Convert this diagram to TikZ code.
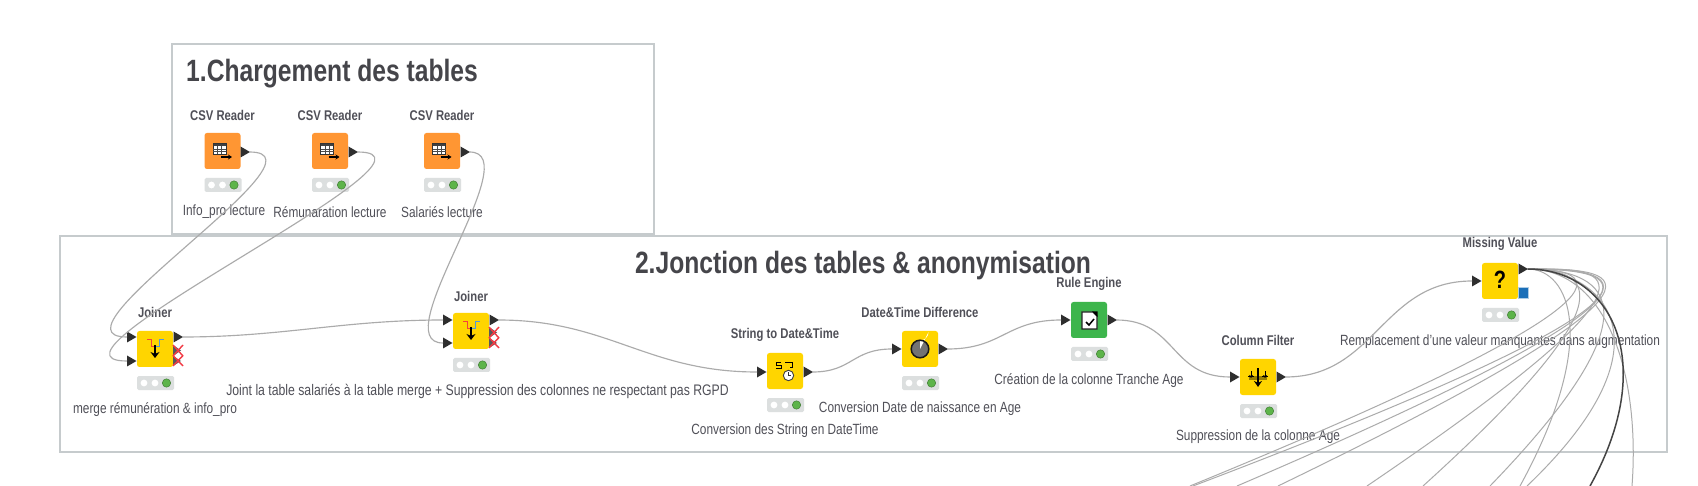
\documentclass[tikz,border=0pt]{standalone}
\usepackage{fontspec}
\setmainfont{Liberation Sans}[FakeStretch=0.80]
\usetikzlibrary{arrows.meta}
\definecolor{boxline}{HTML}{C6CBCD}
\definecolor{wire}{HTML}{ABABAB}
\definecolor{wiredark}{HTML}{444444}
\definecolor{inktext}{HTML}{505058}
\definecolor{headtext}{HTML}{45454A}
\definecolor{kyellow}{HTML}{FFD500}
\definecolor{korange}{HTML}{FF9633}
\definecolor{kgreen}{HTML}{3DB54C}
\definecolor{barfill}{HTML}{DCDFDF}
\definecolor{lamp}{HTML}{5DB44A}
\definecolor{kblue}{HTML}{1B6FB8}
\definecolor{kred}{HTML}{F23A44}
\definecolor{portdark}{HTML}{2E2E2E}
\tikzset{
  groupbox/.style={draw=boxline,line width=1.8pt,fill=none},
  bighead/.style={font=\bfseries\fontsize{30.8}{33}\selectfont,text=headtext,inner sep=0pt},
  nodehead/.style={font=\bfseries\fontsize{14.1}{16}\selectfont,text=inktext,inner sep=0pt},
  nodelabel/.style={font=\fontsize{14.8}{16}\selectfont,text=inktext,inner sep=0pt},
  knbody/.style={rectangle,rounded corners=2.5pt,minimum width=36pt,minimum height=36pt,inner sep=0pt},
  wireline/.style={draw=wire,line width=1.15pt},
  fanline/.style={draw=wire,line width=1pt},
  fandark/.style={draw=wiredark,line width=1.5pt},
  iconline/.style={draw=black,line width=1pt},
}
% name, cx, cy, fill, title, label, title y, label y
\newcommand\kn[8]{%
  \node[knbody,fill=#4] (#1) at (#2,#3) {};
  \node[nodehead] (#1h) at (#2,#7) {#5};
  \node[nodelabel] (#1l) at (#2,#8) {#6};
  \begin{scope}[shift={(#2,#3)}]
    \fill[barfill,rounded corners=1.5pt] (-18,27) rectangle (19,41);
    \fill[white] (-11,34) circle (3.4);
    \fill[white] (0,34) circle (3.4);
    \fill[lamp,draw=lamp!70!black,line width=.5pt] (11.5,34) circle (4.2);
  \end{scope}}
\newcommand\portin[3]{\coordinate (#1) at (#2,#3);
  \fill[portdark] (#2,#3) ++(0,-5.5) -- ++(9.5,5.5) -- ++(-9.5,5.5) -- cycle;}
\newcommand\portout[3]{\coordinate (#1) at (#2,#3);
  \fill[portdark] (#2,#3) ++(-9,-5.5) -- ++(9.5,5.5) -- ++(-9.5,5.5) -- cycle;}
\newcommand\csvicon[2]{\begin{scope}[shift={(#1,#2)}]
  \fill[white] (-9.5,-8) rectangle (3.5,3);
  \fill[black!75] (-9.5,-8) rectangle (3.5,-5);
  \draw[black!80,line width=.7pt] (-9.5,-8) rectangle (3.5,3);
  \draw[black!70,line width=.45pt] (-9.5,-2) -- (3.5,-2) (-9.5,.5) -- (3.5,.5) (-5,-5) -- (-5,3) (-.8,-5) -- (-.8,3);
  \draw[black,line width=1.3pt,-{Stealth[length=4pt,width=5pt]}] (-1.5,6) -- (9.5,6);
\end{scope}}
\newcommand\joinicon[2]{\begin{scope}[shift={(#1,#2)}]
  \draw[kred!85!orange,line width=1pt] (-8,-9) -- (-4,-9) -- (-4,-2) -- (-1,-2);
  \draw[cyan!60!blue!70,line width=1pt] (9,-9) -- (4,-9) -- (4,-2) -- (1,-2);
  \draw[black,line width=1.8pt,-{Stealth[length=6pt,width=9pt]}] (0,-4) -- (0,9);
\end{scope}}
\newcommand\crosses[2]{\begin{scope}[shift={(#1,#2)}]
  \fill[black!65] (18,-4) -- (26,1.5) -- (18,7) -- cycle;
  \fill[black!65] (18,7) -- (26,12) -- (18,17) -- cycle;
  \draw[kred,line width=1.4pt] (18,-4) -- (28,7) (28,-4) -- (18,7) (18,6.5) -- (28,17) (28,6.5) -- (18,17);
\end{scope}}
\begin{document}
\begin{tikzpicture}[x=1pt,y=-1pt]
\useasboundingbox (0,0) rectangle (1698,486);
\fill[white] (0,0) rectangle (1698,486);
% groups
\draw[groupbox] (172,44) rectangle (654,234);
\draw[groupbox] (60,236) rectangle (1667,452);
\node[bighead,anchor=west] (t1) at (186,74) {1.Chargement des tables};
\node[bighead] (t2) at (863,266) {2.Jonction des tables \& anonymisation};
% nodes
\kn{csva}{222.5}{151}{korange}{CSV Reader}{\hspace*{3pt}Info\_pro lecture}{115}{212}
\kn{csvb}{330}{151}{korange}{CSV Reader}{Rémunaration lecture}{115}{212}
\kn{csvc}{442}{151}{korange}{CSV Reader}{Salariés lecture}{115}{212}
\kn{joina}{155}{349}{kyellow}{Joiner}{merge rémunération \& info\_pro}{312}{410}
\kn{joinb}{471}{331}{kyellow}{Joiner}{\hspace*{13pt}\fontsize{15.3}{17}\selectfont Joint la table salariés à la table merge + Suppression des colonnes ne respectant pas RGPD}{296}{391}
\kn{strdt}{785}{371}{kyellow}{String to Date\&Time}{Conversion des String en DateTime}{335}{431}
\kn{dtdiff}{920}{349}{kyellow}{Date\&Time Difference}{Conversion Date de naissance en Age}{312}{409}
\kn{rule}{1089}{320}{kgreen}{Rule Engine}{Création de la colonne Tranche Age}{284}{381}
\kn{colf}{1258}{377}{kyellow}{Column Filter}{Suppression de la colonne Age}{340}{437}
\kn{missv}{1500}{281}{kyellow}{Missing Value}{Remplacement d'une valeur manquantes dans augmentation}{244}{342}
% icons
\csvicon{222.5}{151}\csvicon{330}{151}\csvicon{442}{151}
\joinicon{155}{349}\joinicon{471}{331}
\crosses{155}{349}\crosses{471}{331}
\begin{scope}[shift={(785,371)}]
  \draw[black,line width=1pt] (-4,-8.5) -- (-9,-8.5) -- (-9,-5.5) -- (-4,-5.5) -- (-4,-2.5) -- (-9,-2.5);
  \draw[black,line width=1pt] (0,-8.5) -- (7,-8.5) -- (7,-3) (7,-3) -- (4.5,-3);
  \fill[white,draw=black!75,line width=.9pt] (3.5,4.5) circle (5.2);
  \draw[black!80,line width=.6pt] (3.5,1.2) -- (3.5,4.5) -- (6,4.5);
\end{scope}
\begin{scope}[shift={(920,349)}]
  \fill[black!55] (0,0) circle (8.5);
  \fill[white] (0,0) -- (0,-8.5) arc[start angle=90,end angle=0,radius=8.5] -- cycle;
  \draw[black!90,line width=1.5pt] (0,0) circle (8.8);
\end{scope}
\begin{scope}[shift={(1089,320)}]
  \fill[white,draw=black!85,line width=1.3pt] (-7,-8) -- (4,-8) -- (8,-4) -- (8,9) -- (-7,9) -- cycle;
  \fill[black] (3,-8.5) -- (8.5,-8.5) -- (8.5,-3) -- cycle;
  \draw[black,line width=1.5pt] (-3,2) -- (0,5) -- (5,-1);
\end{scope}
\begin{scope}[shift={(1258,377)}]
  \fill[black!25!kyellow!80!black] (-9,-1) rectangle (9,3);
  \draw[black,line width=1.6pt,-{Stealth[length=6pt,width=8pt]}] (0,-9) -- (0,10);
  \draw[black,line width=.9pt,-{Stealth[length=3pt,width=4pt]}] (-7,-6) -- (-7,1);
  \draw[black,line width=.9pt,-{Stealth[length=3pt,width=4pt]}] (7,-6) -- (7,1);
  \draw[black,line width=.8pt] (-10,-1) -- (-4,-1) (4,-1) -- (10,-1);
\end{scope}
\node[font=\bfseries\fontsize{25}{27}\selectfont,text=black,inner sep=0pt] (q) at (1500,280) {?};
\fill[kblue,draw=kblue!35!white,line width=.6pt] (1518,287) rectangle (1528,298);
% ports
\portout{csvao}{249.5}{152}\portout{csvbo}{357.5}{152}\portout{csvco}{469.5}{152}
\portin{joinai}{127}{337}\portin{joinaj}{127}{361}\portout{joinao}{182.5}{337}
\portin{joinbi}{443}{320}\portin{joinbj}{443}{343}\portout{joinbo}{498.5}{320}
\portin{strdti}{757}{372}\portout{strdto}{812.5}{372}
\portin{dtdiffi}{892}{349}\portout{dtdiffo}{947.5}{349}
\portin{rulei}{1061}{320}\portout{ruleo}{1116.5}{320}
\portin{colfi}{1230}{377}\portout{colfo}{1285.5}{377}
\portin{missvi}{1472}{281}\portout{missvo}{1527.5}{269}
% wires
\draw[wireline] (csvao) .. controls +(88,0) and +(-88,0) .. (joinai);
\draw[wireline] (csvbo) .. controls +(110,0) and +(-110,0) .. (joinaj);
\draw[wireline] (csvco) .. controls +(60,0) and +(-60,0) .. (joinbj);
\draw[wireline] (joinao) .. controls +(100,0) and +(-100,0) .. (joinbi);
\draw[wireline] (joinbo) .. controls +(110,0) and +(-110,0) .. (strdti);
\draw[wireline] (strdto) .. controls +(40,0) and +(-40,0) .. (dtdiffi);
\draw[wireline] (dtdiffo) .. controls +(55,0) and +(-55,0) .. (rulei);
\draw[wireline] (ruleo) .. controls +(60,0) and +(-60,0) .. (colfi);
\draw[wireline] (colfo) .. controls +(90,0) and +(-90,0) .. (missvi);
% fan leaving the picture
\coordinate (fa) at (1190,486);
\coordinate (fb) at (1193,486);
\coordinate (fc) at (1237,486);
\coordinate (fd) at (1278,486);
\coordinate (fe) at (1367,486);
\coordinate (ff) at (1423,486);
\coordinate (fh) at (1490,486);
\coordinate (fi) at (1520,486);
\coordinate (fj) at (1527,486);
\coordinate (fk) at (1632,486);
\coordinate (fz) at (1590,486);
\draw[fanline] (missvo) .. controls (1620,269) and (1620,310) .. (fa);
\draw[fanline] (missvo) .. controls (1640,269) and (1693,296) .. (fb);
\draw[fanline] (missvo) .. controls (1620,269) and (1717,280) .. (fc);
\draw[fanline] (missvo) .. controls (1610,269) and (1728,268) .. (fd);
\draw[fanline] (missvo) .. controls (1600,269) and (1697,262) .. (fe);
\draw[fanline] (missvo) .. controls (1600,269) and (1623,305) .. (ff);
\draw[fanline] (missvo) .. controls (1600,269) and (1670,300) .. (fh);
\draw[fanline] (missvo) .. controls (1570,269) and (1600,340) .. (fi);
\draw[fanline] (missvo) .. controls (1600,269) and (1680,340) .. (fj);
\draw[fanline] (missvo) .. controls (1610,269) and (1640,380) .. (fk);
\draw[fandark] (missvo) .. controls (1610,269) and (1660,360) .. (fz);
\end{tikzpicture}
\end{document}
